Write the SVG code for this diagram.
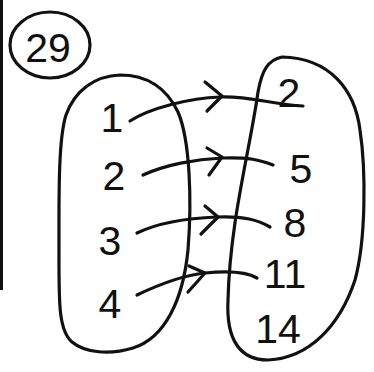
<svg xmlns="http://www.w3.org/2000/svg" width="374" height="372" viewBox="0 0 374 372">
<style>
.ink{fill:none;stroke:#111;stroke-width:3.2;stroke-linecap:round;stroke-linejoin:round}
.num{font-family:"Liberation Sans","DejaVu Sans",sans-serif;font-size:41px;fill:#111;text-anchor:middle}
</style>
<rect width="374" height="372" fill="#fff"/>
<rect x="0" y="0" width="3" height="290" fill="#111"/>
<g id="label-29">
<ellipse class="ink" cx="50" cy="45" rx="40" ry="33"/>
<text class="num" x="48" y="62">29</text>
</g>
<g id="domain">
<path class="ink" d="M120,75 C95,76 75,90 66,115 C58,140 59,200 59,250 C59,300 58,330 72,342 C85,353 110,355 133,348 C165,338 183,300 188,250 C192,200 190,140 178,112 C165,85 145,75 120,75 Z"/>
<text class="num" x="112" y="132">1</text>
<text class="num" x="114" y="190">2</text>
<text class="num" x="110" y="255">3</text>
<text class="num" x="110" y="318">4</text>
</g>
<g id="codomain">
<path class="ink" d="M282,57 C268,60 262,70 258,92 C250,150 230,220 228,300 C226,340 240,360 268,360 C310,358 340,325 355,280 C366,240 366,170 360,130 C355,90 330,58 282,57 Z"/>
<text class="num" x="289" y="107">2</text>
<text class="num" x="301" y="183">5</text>
<text class="num" x="295" y="237">8</text>
<text class="num" x="285" y="288">11</text>
<text class="num" x="278" y="343">14</text>
</g>
<g id="connectors">
<path class="ink" d="M130,121 C150,108 190,98 220,97 S270,104 303,106"/>
<path class="ink" d="M205,82 L222,96 L207,111"/>
<path class="ink" d="M143,175 C165,165 195,159 222,158 S260,160 273,165"/>
<path class="ink" d="M207,148 L222,157 L209,175"/>
<path class="ink" d="M137,233 C160,222 190,218 217,217 S258,220 270,227"/>
<path class="ink" d="M205,206 L218,217 L201,234"/>
<path class="ink" d="M137,295 C160,284 185,275 205,273 S245,271 257,278"/>
<path class="ink" d="M189,266 L205,273 L188,292"/>
</g>
</svg>
